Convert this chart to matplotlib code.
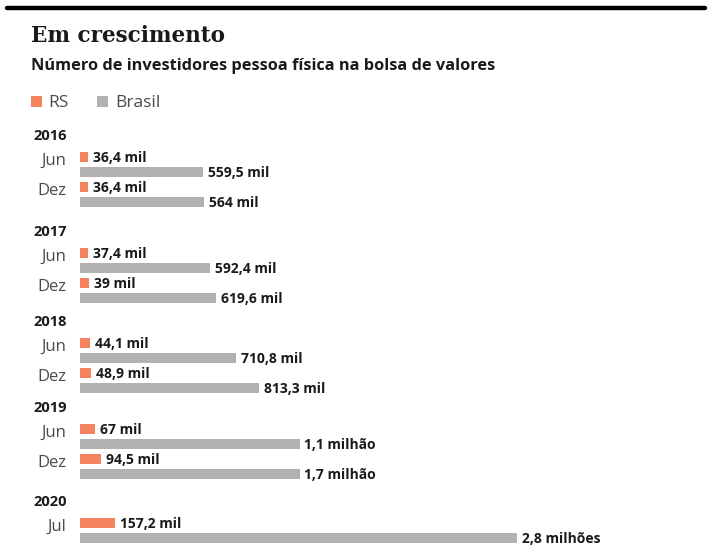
import matplotlib.pyplot as plt
from matplotlib.patches import Rectangle
from matplotlib.lines import Line2D
from matplotlib.transforms import offset_copy

# ---- data ------------------------------------------------------------------
years = ["2016", "2017", "2018", "2019", "2020"]
months = [["Jun", "Dez"], ["Jun", "Dez"], ["Jun", "Dez"], ["Jun", "Dez"], ["Jul"]]
# thousands of investors
rs = [36.4, 36.4, 37.4, 39, 44.1, 48.9, 67, 94.5, 157.2]
rs_labels = ["36,4 mil", "36,4 mil", "37,4 mil", "39 mil", "44,1 mil",
             "48,9 mil", "67 mil", "94,5 mil", "157,2 mil"]
# bar lengths as drawn in the original graphic (thousands)
brasil = [559.5, 564, 592.4, 619.6, 710.8, 813.3, 1000, 1000, 1990]
brasil_labels = ["559,5 mil", "564 mil", "592,4 mil", "619,6 mil", "710,8 mil",
                 "813,3 mil", "1,1 milhão", "1,7 milhão", "2,8 milhões"]

# ---- style -----------------------------------------------------------------
ORANGE = "#F4825E"
GREY = "#B2B2B2"
DARK = "#1a1a1a"
MUTED = "#4a4a4a"
SANS = ["Open Sans", "DejaVu Sans"]

W, H = 712, 556
fig = plt.figure(figsize=(W / 100, H / 100), dpi=100, facecolor="white")

# full-figure pixel axes for the header
hdr = fig.add_axes([0, 0, 1, 1])
hdr.set_xlim(0, W)
hdr.set_ylim(H, 0)
hdr.axis("off")

hdr.add_line(Line2D([7, 705], [8, 8], color="black", lw=3.2,
                    solid_capstyle="round"))
hdr.text(31, 42, "Em crescimento", family="DejaVu Serif", weight="bold",
         fontsize=15.5, color=DARK, va="baseline", ha="left")
hdr.text(31, 70, "Número de investidores pessoa física na bolsa de valores",
         family=SANS, weight="bold", fontsize=11.8, color=DARK,
         va="baseline", ha="left")

# legend
hdr.add_patch(Rectangle((31, 96), 11, 11, color=ORANGE, lw=0))
hdr.text(48, 107, "RS", family=SANS, fontsize=12.5, color=MUTED, va="baseline")
hdr.add_patch(Rectangle((97, 96), 11, 11, color=GREY, lw=0))
hdr.text(115, 107, "Brasil", family=SANS, fontsize=12.5, color=MUTED,
         va="baseline")

# ---- bars ------------------------------------------------------------------
PX_PER_K = 0.2195
x0 = 80
ax = fig.add_axes([x0 / W, 0, 1 - x0 / W, 1])
ax.set_xlim(0, (W - x0) / PX_PER_K)
ax.set_ylim(H, 0)
ax.axis("off")

year_y = [136, 232, 322, 408, 502]
bar_h = 10
lab_off = offset_copy(ax.transData, fig=fig, x=5, y=0, units="dots")
mo_off = offset_copy(ax.transData, fig=fig, x=-14, y=0, units="dots")

i = 0
for g, yr in enumerate(years):
    hdr.text(33, year_y[g], yr, family=SANS, weight="bold", fontsize=10.5,
             color=DARK, va="center", ha="left")
    for k, mo in enumerate(months[g]):
        y_rs = year_y[g] + 21 + 30 * k
        y_br = y_rs + 15
        ax.barh(y_rs, rs[i], height=bar_h, color=ORANGE, lw=0)
        ax.barh(y_br, brasil[i], height=bar_h, color=GREY, lw=0)
        ax.text(rs[i], y_rs + bar_h / 2, rs_labels[i], transform=lab_off,
                family=SANS, weight="bold", fontsize=10, color=DARK,
                va="baseline", ha="left")
        ax.text(brasil[i], y_br + bar_h / 2, brasil_labels[i], transform=lab_off,
                family=SANS, weight="bold", fontsize=10, color=DARK,
                va="baseline", ha="left")
        ax.text(0, y_rs + 8, mo, transform=mo_off, family=SANS,
                fontsize=12, color=MUTED, va="baseline", ha="right")
        i += 1

fig.savefig("out.png", dpi=100, facecolor="white")
